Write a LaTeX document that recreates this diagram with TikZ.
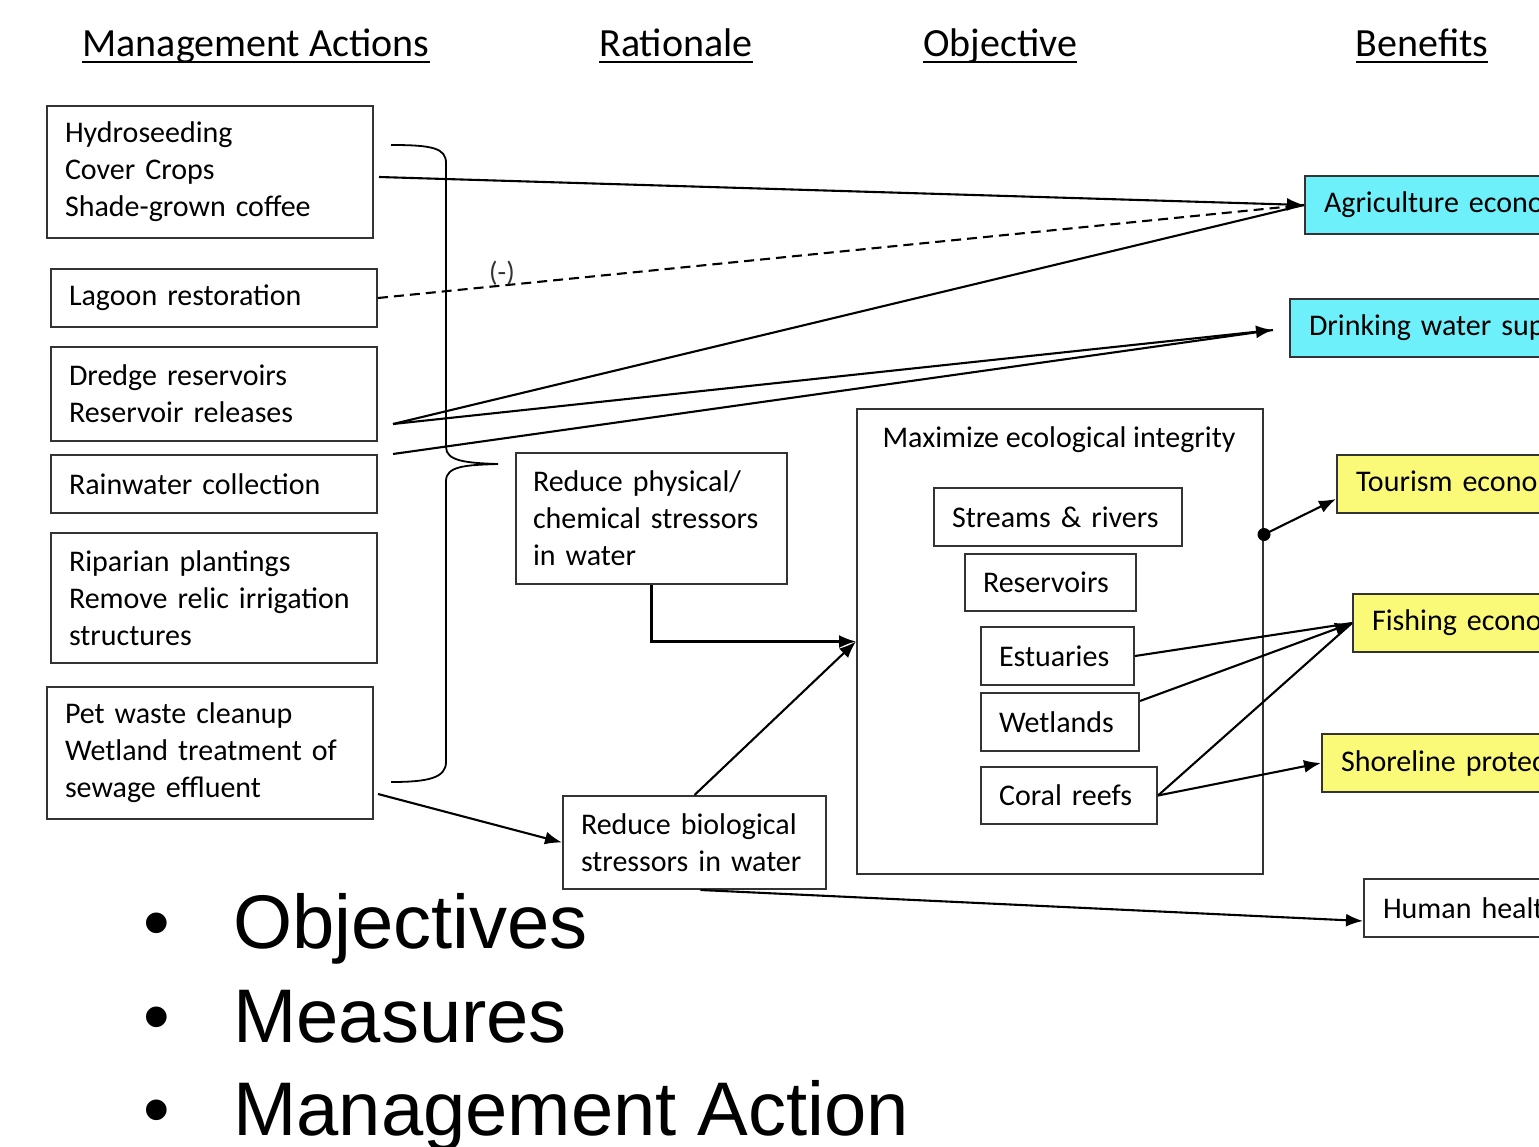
\documentclass[tikz,border=0pt]{standalone}
\usepackage{fontspec}
\setmainfont{Carlito}
\newfontfamily\bulletfont{Liberation Sans}
\usetikzlibrary{arrows.meta}
\definecolor{aquafill}{RGB}{110,240,250}
\definecolor{yellowfill}{RGB}{250,250,120}
\begin{document}
\begin{tikzpicture}[x=1pt,y=-1pt,
  txt/.style={font=\fontsize{30}{37}\selectfont},
  box/.style={txt, draw=black!80, line width=2pt, anchor=north west, align=left,
              inner xsep=18pt, inner ysep=0pt},
  benefit/.style={box, minimum width=330pt, minimum height=58pt, text width=292pt},
  head/.style={font=\fontsize{40}{48}\selectfont, anchor=base, inner sep=0pt, text depth=5pt},
  uline/.style={line width=2pt},
  link/.style={line width=2.1pt, black},
  tip/.style={link, -{Latex[length=17pt,width=13pt]}},
  dashlink/.style={link, dash pattern=on 10pt off 6pt},
  big/.style={font=\bulletfont\fontsize{76}{92}\selectfont, inner sep=0pt}
]
\useasboundingbox (0,0) rectangle (1539,1147);
\clip (0,0) rectangle (1539,1147);

% column headings
\node[head] (hma) at (256,57) {Management Actions};
\node[head] (hra) at (676,57) {Rationale};
\node[head] (hob) at (1000,57) {Objective};
\node[head] (hbe) at (1422,57) {Benefits};
\foreach \h in {hma,hra,hob,hbe}
  \draw[uline] (\h.south west) -- (\h.south east);

% management actions
\node[box, minimum width=326pt, minimum height=132pt, text width=290pt] (hydro) at (46,105)
  {Hydroseeding\\Cover Crops\\Shade-grown coffee};
\node[box, minimum width=326pt, minimum height=58pt, text width=290pt] (lagoon) at (50,268)
  {Lagoon restoration};
\node[box, minimum width=326pt, minimum height=94pt, text width=290pt] (dredge) at (50,346)
  {Dredge reservoirs\\Reservoir releases};
\node[box, minimum width=326pt, minimum height=58pt, text width=290pt] (rain) at (50,454)
  {Rainwater collection};
\node[box, minimum width=326pt, minimum height=130pt, text width=290pt] (ripar) at (50,532)
  {Riparian plantings\\Remove relic irrigation\\structures};
\node[box, minimum width=326pt, minimum height=132pt, text width=290pt] (pet) at (46,686)
  {Pet waste cleanup\\Wetland treatment of\\sewage effluent};

% rationale
\node[box, inner xsep=17pt, minimum width=271pt, minimum height=131pt, text width=237pt] (phys) at (515,452)
  {Reduce physical/\\chemical stressors\\in water};
\node[box, minimum width=263pt, minimum height=93pt, text width=227pt] (bio) at (562,795)
  {Reduce biological\\stressors in water};

% objective
\node[box, minimum width=406pt, minimum height=465pt, text width=370pt] (eco) at (856,408) {};
\node[txt, anchor=base, inner sep=0pt] (ecotitle) at (1059,447) {Maximize ecological integrity};
\node[box, minimum width=248pt, minimum height=58pt, text width=212pt] (streams) at (933,487) {Streams \& rivers};
\node[box, minimum width=171pt, minimum height=57pt, text width=135pt] (resv) at (964,553) {Reservoirs};
\node[box, minimum width=153pt, minimum height=58pt, text width=117pt] (estu) at (980,626) {Estuaries};
\node[box, minimum width=158pt, minimum height=58pt, text width=122pt] (wet) at (980,692) {Wetlands};
\node[box, minimum width=176pt, minimum height=57pt, text width=140pt] (coral) at (980,766) {Coral reefs};

% benefits
\node[benefit, fill=aquafill] (agri) at (1304,175) {Agriculture economy};
\node[benefit, fill=aquafill] (drink) at (1289,298) {Drinking water supply};
\node[benefit, fill=yellowfill] (tour) at (1336,454) {Tourism economy};
\node[benefit, fill=yellowfill] (fish) at (1352,593) {Fishing economy};
\node[benefit, fill=yellowfill] (shore) at (1321,733) {Shoreline protection};
\node[benefit] (human) at (1363,878) {Human health};

% brace grouping the management actions
\draw[link, line width=1.8pt] (391,145) .. controls (432,145) and (446,148) .. (446,163)
  -- (446,447) .. controls (446,461) and (466,463) .. (498,464)
  .. controls (466,465) and (446,466) .. (446,481)
  -- (446,762) .. controls (446,778) and (428,782) .. (391,782);

% links to agriculture and drinking water
\coordinate (dredgeout) at ([shift={(15,30)}]dredge.east);
\coordinate (rainout) at ([shift={(15,-30)}]rain.east);
\coordinate (drinkin) at ([shift={(-16,2)}]drink.west);
\draw[dashlink] (lagoon.east) -- (agri.west);
\draw[link] (dredgeout) -- (agri.west);
\draw[tip] ([shift={(5,5)}]hydro.east) -- (agri.west);
\node[txt, font=\fontsize{28}{34}\selectfont, text=black!80, inner sep=0pt] (neg) at (502,273) {(-)};
\draw[link] (rainout) -- (drinkin);
\draw[tip] (dredgeout) -- (drinkin);

% links into the objective
\draw[tip] (phys.south) |- (eco.west);
\draw[tip] (bio.north) -- (eco.west);
\draw[tip] ([shift={(4,41)}]pet.east) -- (bio.west);
\draw[tip] ([xshift=6pt]bio.south) -- ([shift={(0,13)}]human.west);

% links from the objective to benefits
\coordinate (dot) at ([shift={(0,-107)}]eco.east);
\fill (dot) circle (6.5);
\draw[tip] (dot) -- ([shift={(0,15)}]tour.west);
\draw[link] (estu.east) -- (fish.west);
\draw[link] (coral.east) -- (fish.west);
\draw[tip] ([shift={(0,-21)}]wet.east) -- (fish.west);
\draw[tip] (coral.east) -- (shore.west);

% bullet list
\node[big, anchor=base] (d1) at (157,948) {•};
\node[big, anchor=base] (d2) at (157,1042) {•};
\node[big, anchor=base] (d3) at (157,1135) {•};
\node[big, anchor=base west] (l1) at (233,948) {Objectives};
\node[big, anchor=base west] (l2) at (233,1042) {Measures};
\node[big, anchor=base west] (l3) at (233,1135) {Management Action};
\end{tikzpicture}
\end{document}
